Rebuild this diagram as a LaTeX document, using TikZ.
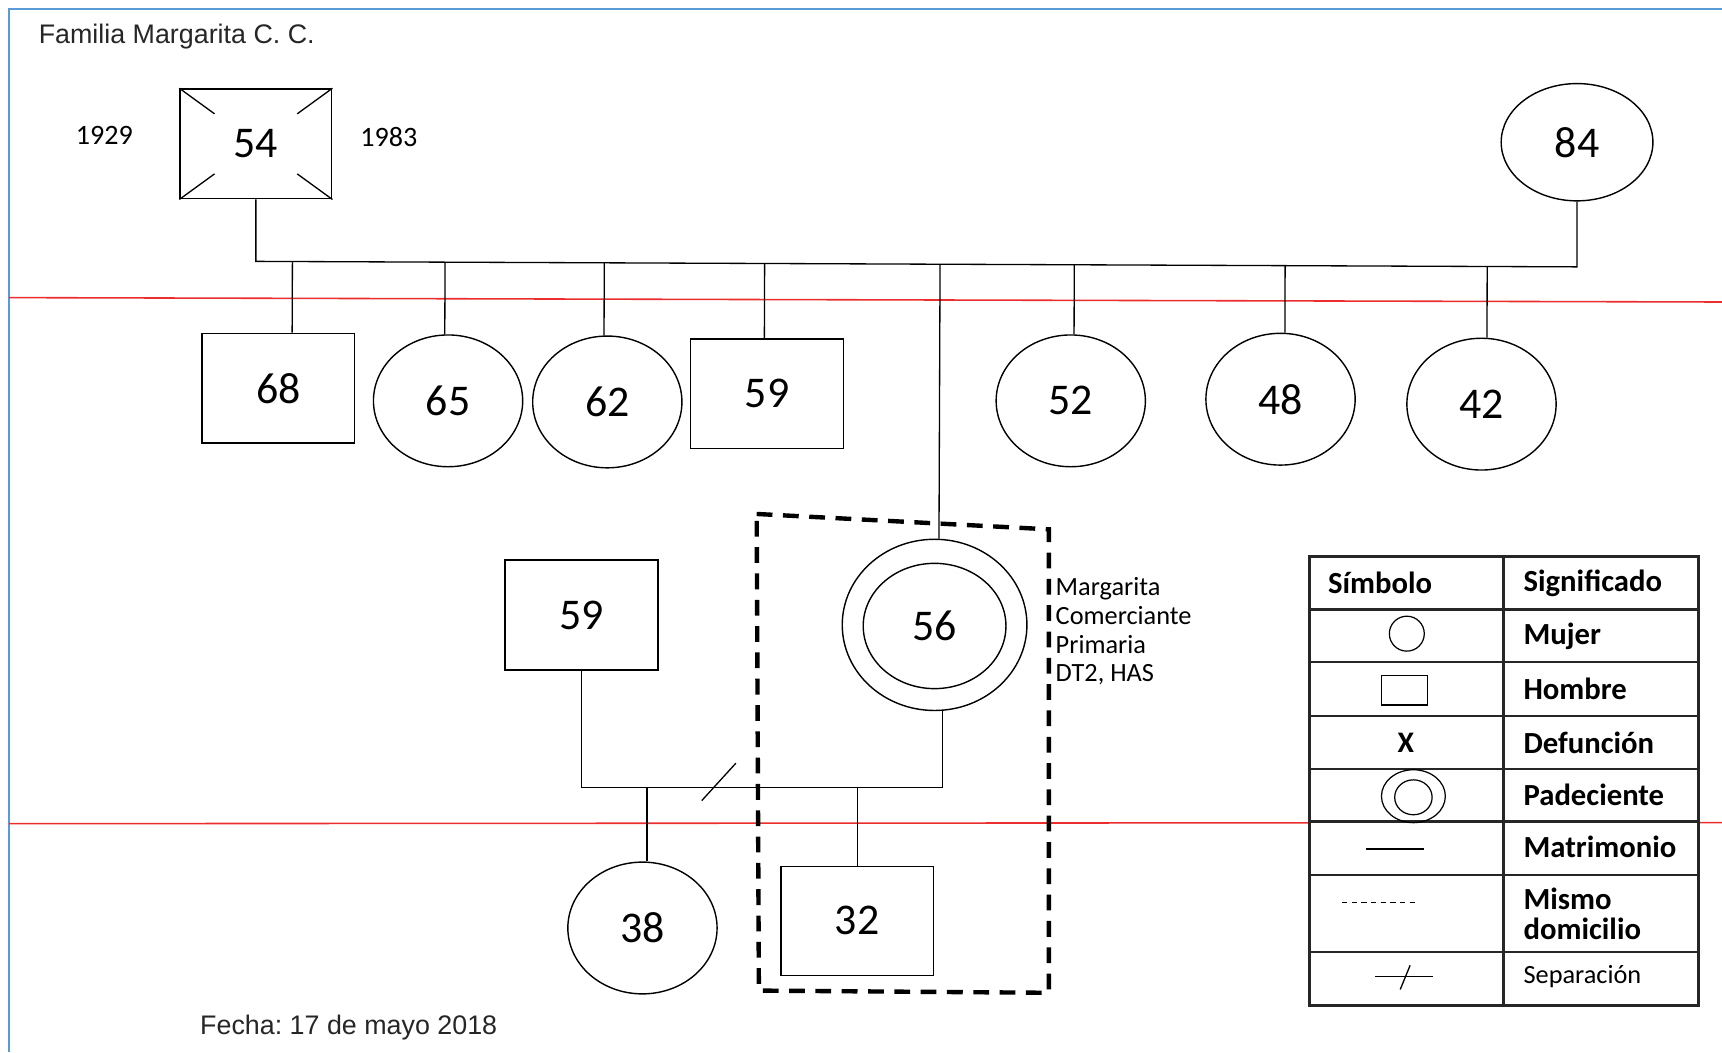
\documentclass[tikz,border=0pt]{standalone}
\usepackage{fontspec}
\setmainfont{Carlito}
\newfontfamily\arialfont{Liberation Sans}
\usepackage{tikz}
\usetikzlibrary{shapes.geometric,calc}
\definecolor{marco}{RGB}{91,155,213}
\definecolor{gen}{RGB}{236,45,45}
\frenchspacing

\begin{document}
\begin{tikzpicture}[x=0.022cm,y=-0.022cm,
    hombre/.style={draw,line width=0.8pt,minimum width=3.06cm,minimum height=2.2cm,inner sep=0pt,font=\fontsize{25}{27}\selectfont},
    mujer/.style={draw,ellipse,line width=0.8pt,minimum width=2.99cm,minimum height=2.64cm,inner sep=0pt,font=\fontsize{25}{27}\selectfont},
    rama/.style={line width=0.75pt},
    fuera/.style={inner sep=0pt,font=\fontsize{16}{18}\selectfont},
    rotulo/.style={anchor=base west,inner sep=0pt,text=black!85,font=\arialfont\fontsize{15.3}{18}\selectfont},
    cabeza/.style={anchor=west,inner sep=0pt,font=\bfseries\fontsize{17.5}{17}\selectfont},
    domicilio/.style={line width=2.5pt,dash pattern=on 9pt off 6pt},
  ]
  \useasboundingbox (0,0) rectangle (1568,958);
  \draw[marco,line width=1.3pt] (1568,8) -- (8,8) -- (8,958);
  % generaciones
  \draw[gen,line width=0.9pt] (8,271) -- (1568,275);
  \draw[gen,line width=0.9pt] (8,750) -- (1568,749);

  \node[rotulo] (titulo) at (35,40) {Familia Margarita C. C.};
  \node[rotulo] (fecha) at (182,942) {Fecha: 17 de mayo 2018};

  % padres
  \node[hombre,minimum width=3.04cm] (p54) at (233,131) {54};
  \foreach \c in {north west,north east,south west,south east}
    \draw[rama] (p54.\c) -- ($(p54.\c)!0.46!(p54.center)$);
  \node[fuera] (nac) at (95,123) {1929};
  \node[fuera] (muerte) at (354,125) {1983};
  \node[mujer,minimum width=3.04cm,minimum height=2.35cm] (m84) at (1436,129.5) {84};
  \coordinate (hermL) at (233,238);
  \coordinate (hermR) at (1436,243);
  \draw[rama] (p54.south) -- (hermL) -- (hermR) -- (m84.south);

  % hijos
  \node[hombre] (h68) at (253.5,353.5) {68};
  \node[mujer] (m65) at (408,365) {65};
  \node[mujer] (m62) at (553,366) {62};
  \node[hombre] (h59) at (698.5,358.5) {59};
  \node[mujer] (m52) at (975,365) {52};
  \node[mujer] (m48) at (1166,363.5) {48};
  \node[mujer] (m42) at (1349,368) {42};

  % Margarita
  \draw[domicilio] (689,468) -- (955,482) -- (955,904) -- (691,902) -- cycle;
  \node[draw,ellipse,line width=0.8pt,minimum width=3.7cm,minimum height=3.43cm] (pac) at (851,569) {};
  \node[mujer,minimum width=2.86cm,minimum height=2.51cm] (pacin) at (851,570) {56};
  \node[anchor=west,inner sep=0pt,align=left,font=\fontsize{15}{16.4}\selectfont] (datos) at (961,575)
    {Margarita\\Comerciante\\Primaria\\DT2, HAS};

  \foreach \n/\d in {h68/12.5,m65/-3,m62/-3,h59/-2.5,pac/4,m52/3,m48/4,m42/5} {
    \coordinate (t) at ($(\n.north)+(\d,0)$);
    \draw[rama] (t) -- ($(hermL)!(t)!(hermR)$);
  }

  % pareja y nietos
  \node[hombre] (h59b) at (529.5,560) {59};
  \node[mujer] (m38) at (585,845) {38};
  \node[hombre,minimum height=2.18cm] (h32) at (780.5,838.5) {32};
  \coordinate (matL) at (h59b.south |- 0,717);
  \coordinate (matR) at (858,717);
  \draw[rama] (h59b.south) -- (matL) -- (matR) -- (matR |- pac.south);
  \draw[rama] (639,729) -- (670,695);
  \foreach \n/\d in {m38/4,h32/0.5} {
    \coordinate (t) at ($(\n.north)+(\d,0)$);
    \draw[rama] (t) -- (t |- matL);
  }

  % simbologia
  \fill[white] (1192,507) rectangle (1547,916);
  \foreach \y in {555,603,652,700,748,797,867}
    \draw[black!85,line width=1.3pt] (1192,\y) -- (1547,\y);
  \draw[black!85,line width=1.3pt] (1369,507) -- (1369,916);
  \draw[black!85,line width=1.7pt] (1192,507) rectangle (1547,916);
  \node[cabeza] (simbolo) at (1209,531) {Símbolo};
  \foreach \t/\y in {Significado/531,Mujer/579,Hombre/627,Defunción/676,Padeciente/724,Matrimonio/771}
    \node[cabeza] (s\y) at (1387,\y) {\t};
  \node[cabeza,align=left] (mismo) at (1387,832) {Mismo\\domicilio};
  \node[anchor=west,inner sep=0pt,font=\fontsize{15}{17}\selectfont] (sep) at (1387,889) {Separación};
  \node[draw,circle,line width=0.7pt,minimum size=0.7cm,inner sep=0pt] (lmujer) at (1281,577) {};
  \node[draw,line width=0.8pt,minimum width=0.92cm,minimum height=0.59cm,inner sep=0pt] (lhombre) at (1279,628.5) {};
  \node[inner sep=0pt,font=\bfseries\fontsize{17}{17}\selectfont] (lx) at (1280,676) {X};
  \node[draw,ellipse,line width=0.7pt,minimum width=1.28cm,minimum height=1.06cm,inner sep=0pt] (lpad) at (1287,725) {};
  \node[draw,ellipse,line width=0.7pt,minimum width=0.75cm,minimum height=0.7cm,inner sep=0pt] (lpadin) at (1287,726) {};
  \draw[rama] (1244,773) -- (1297,773);
  \draw[rama,dash pattern=on 3pt off 2.5pt] (1222,822) -- (1288,822);
  \draw[rama] (1252,889) -- (1305,889);
  \draw[rama] (1275,901) -- (1284,879);
\end{tikzpicture}
\end{document}
